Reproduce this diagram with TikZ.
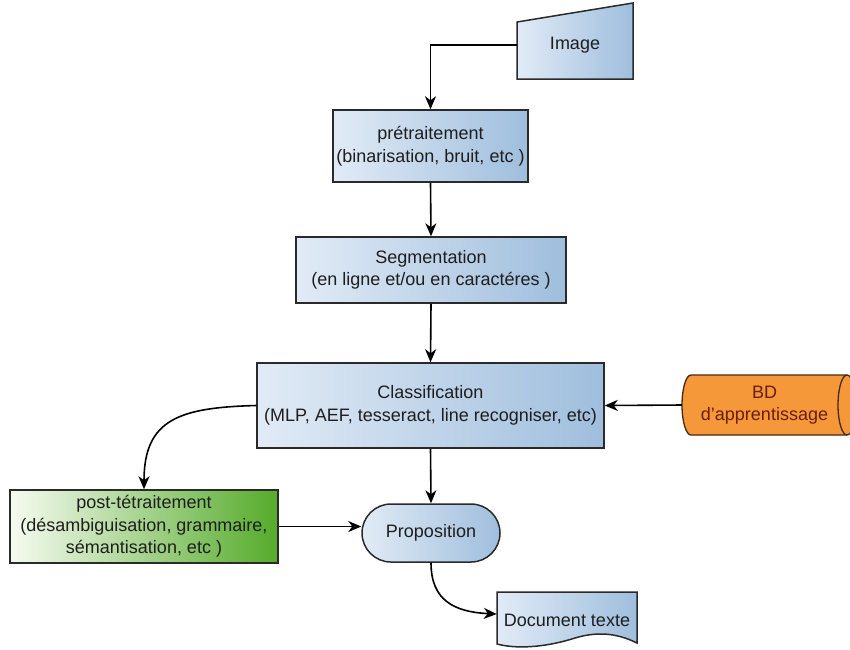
\documentclass[tikz,border=0pt]{standalone}
\usepackage{fontspec}
\setmainfont{Liberation Sans}
\usetikzlibrary{arrows.meta}
\definecolor{boxL}{HTML}{E1EBF6}
\definecolor{boxR}{HTML}{9FBEDD}
\definecolor{edge}{HTML}{2A2A2A}
\definecolor{txt}{HTML}{1E1E1E}
\definecolor{greenL}{HTML}{F6FBF1}
\definecolor{greenR}{HTML}{55AB2A}
\definecolor{bdfill}{HTML}{F4983A}
\definecolor{bdedge}{HTML}{4A2A12}
\definecolor{bdtext}{HTML}{6B1E0C}
\begin{document}
\begin{tikzpicture}[x=1pt,y=1pt,
  font=\fontsize{18}{22.5}\selectfont,
  box/.style={draw=edge, line width=1.5pt, left color=boxL, right color=boxR,
              text=txt, align=center, inner sep=0pt},
  shapeline/.style={draw=edge, line width=1.5pt, left color=boxL, right color=boxR},
  label/.style={text=txt, align=center, inner sep=0pt},
  arr/.style={draw=black, line width=1.6pt, -{Stealth[length=13pt,width=11pt,inset=4pt]}},
]
\useasboundingbox (0,0) rectangle (850,-649);

% manual input: Image
\path[shapeline] (517,-79) -- (633,-79) -- (633,-3) -- (517,-22) -- cycle;
\node[label, minimum width=116pt, minimum height=68pt] (img) at (575,-45) {Image};

% processing steps
\node[box, minimum width=195pt, minimum height=72pt] (pre) at (430.5,-146)
  {prétraitement\\(binarisation, bruit, etc )};
\node[box, minimum width=270pt, minimum height=66pt] (seg) at (431,-270)
  {Segmentation\\(en ligne et/ou en caractéres )};
\node[box, minimum width=347pt, minimum height=85pt] (cls) at (430.5,-405.5)
  {Classification\\(MLP, AEF, tesseract, line recogniser, etc)};
\node[box, left color=greenL, right color=greenR, minimum width=268pt, minimum height=73pt]
  (post) at (144,-526.5)
  {post-tétraitement\\(désambiguisation, grammaire,\\sémantisation, etc )};
\node[box, rounded corners=29pt, minimum width=138pt, minimum height=58pt] (prop) at (431,-533)
  {Proposition};

% database: horizontal cylinder
\path[draw=bdedge, line width=1.3pt, fill=bdfill]
  (691,-375) -- (847,-375) arc[start angle=90, end angle=-90, x radius=9, y radius=30]
  -- (691,-435) arc[start angle=270, end angle=90, x radius=9, y radius=30] -- cycle;
\draw[bdedge, line width=1.3pt] (847,-375) arc[start angle=90, end angle=270, x radius=9, y radius=30];
\node[label, text=bdtext, minimum width=165pt, minimum height=60pt] (bd) at (764.5,-405)
  {BD\\d'apprentissage};

% document with wavy bottom
\path[shapeline] (497,-592) -- (637,-592) -- (637,-643)
  .. controls (615,-632) and (595,-632) .. (575,-638)
  .. controls (550,-646) and (520,-650) .. (497,-644) -- cycle;
\node[label, minimum width=140pt, minimum height=56pt] (doc) at (567,-620) {Document texte};

% connectors
\draw[arr] (img.west) -| (pre.north);
\draw[arr] (pre.south) -- (seg.north);
\draw[arr] (seg.south) -- (cls.north);
\draw[arr] (bd.west) -- (cls.east);
\draw[arr] (cls.west) .. controls +(-77,-2) and +(0,70) .. (post.north);
\draw[arr] (cls.south) -- (prop.north);
\draw[arr] (post.east) -- (post.east -| prop.west);
\draw[arr] (prop.south) .. controls +(0,-38) and +(-42,2) .. ([yshift=6pt]doc.west);
\end{tikzpicture}
\end{document}
